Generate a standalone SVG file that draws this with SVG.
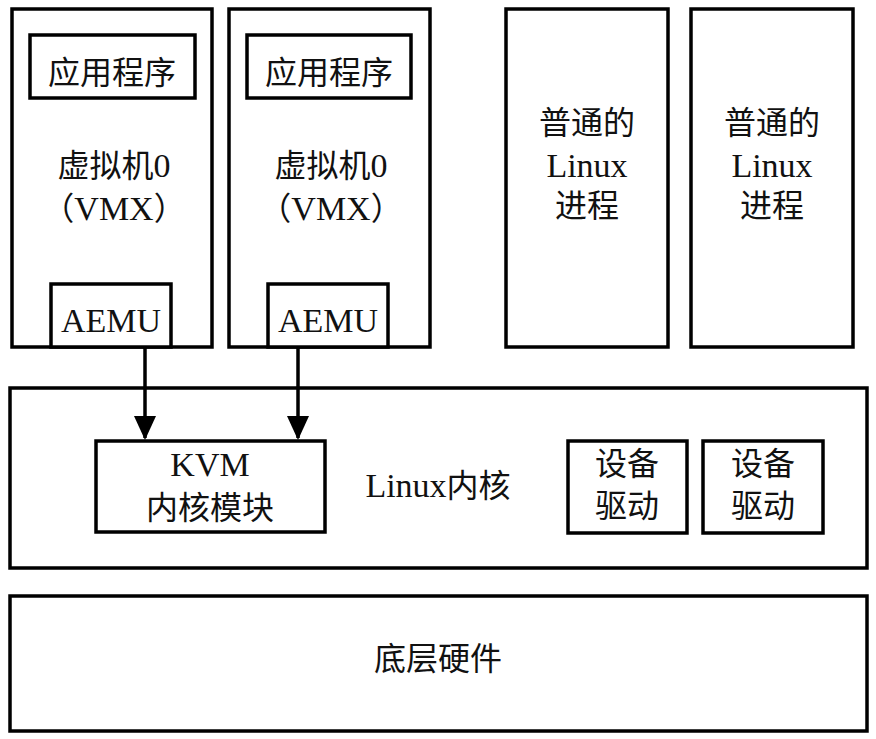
<svg xmlns="http://www.w3.org/2000/svg" width="876" height="739" viewBox="0 0 876 739">
<defs>
<style>
rect{fill:#fff;stroke:#000;stroke-width:3.5}
text{font-family:"Liberation Serif","Noto Sans CJK SC",serif;font-size:32px;fill:#111;text-anchor:middle}
.l{font-size:34px}
.c{stroke:#000;stroke-width:3.5;fill:none}
</style>
<marker id="ah" viewBox="0 0 24 22" refX="22" refY="11" markerWidth="24" markerHeight="22" markerUnits="userSpaceOnUse" orient="auto">
<path d="M0,0 L24,11 L0,22 z" fill="#000"/>
</marker>
</defs>
<rect x="0" y="0" width="876" height="739" style="stroke:none"/>
<g id="vm1">
<rect x="12" y="9" width="200" height="338"/>
<g id="app1"><rect x="30" y="35" width="165" height="63"/><text x="112" y="84">应用程序</text></g>
<text x="114" y="177">虚拟机<tspan class="l">0</tspan></text>
<text x="114" y="220">（<tspan class="l">VMX</tspan>）</text>
<g id="aemu1"><rect x="51" y="284" width="120" height="63"/><text class="l" x="111" y="332">AEMU</text></g>
</g>
<g id="vm2">
<rect x="229" y="9" width="201" height="338"/>
<g id="app2"><rect x="247" y="35" width="164" height="63"/><text x="329" y="84">应用程序</text></g>
<text x="331" y="177">虚拟机<tspan class="l">0</tspan></text>
<text x="331" y="220">（<tspan class="l">VMX</tspan>）</text>
<g id="aemu2"><rect x="268" y="284" width="120" height="63"/><text class="l" x="328" y="332">AEMU</text></g>
</g>
<g id="proc1">
<rect x="506" y="9" width="162" height="338"/>
<text x="587" y="134">普通的</text>
<text class="l" x="587" y="177">Linux</text>
<text x="587" y="217">进程</text>
</g>
<g id="proc2">
<rect x="691" y="9" width="162" height="338"/>
<text x="772" y="134">普通的</text>
<text class="l" x="772" y="177">Linux</text>
<text x="772" y="217">进程</text>
</g>
<g id="kernel">
<rect x="10" y="388" width="857" height="180"/>
<text x="438" y="497"><tspan class="l">Linux</tspan>内核</text>
</g>
<g id="kvm">
<rect x="96" y="441" width="229" height="91"/>
<text class="l" x="210" y="476">KVM</text>
<text x="210" y="519">内核模块</text>
</g>
<g id="drv1">
<rect x="568" y="441" width="119" height="92"/>
<text x="627" y="475">设备</text>
<text x="627" y="517">驱动</text>
</g>
<g id="drv2">
<rect x="703" y="441" width="120" height="92"/>
<text x="763" y="475">设备</text>
<text x="763" y="517">驱动</text>
</g>
<g id="hw">
<rect x="10" y="596" width="857" height="135"/>
<text x="438" y="670">底层硬件</text>
</g>
<g id="connectors">
<line class="c" x1="145" y1="347" x2="145" y2="438" marker-end="url(#ah)"/>
<line class="c" x1="298" y1="347" x2="298" y2="438" marker-end="url(#ah)"/>
</g>
</svg>
